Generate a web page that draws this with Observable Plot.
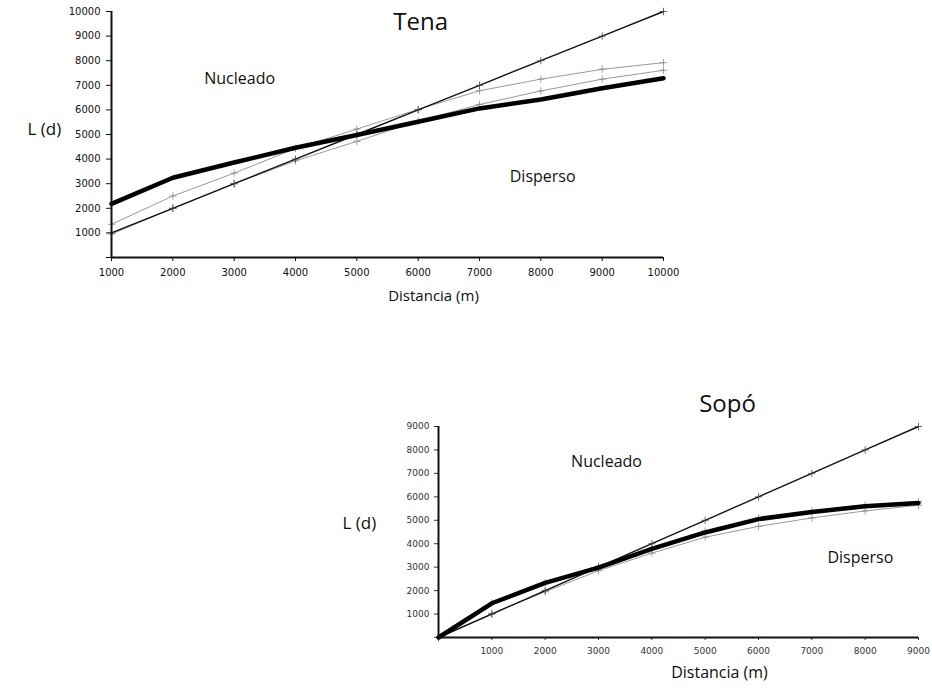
<!DOCTYPE html>
<html><head><meta charset="utf-8">
<script src="https://cdn.jsdelivr.net/npm/d3@7"></script>
<script src="https://cdn.jsdelivr.net/npm/@observablehq/plot@0.6"></script>
<style>
body{margin:0;background:#fff;}
#wrap{position:relative;width:932px;height:693px;overflow:hidden;background:#fff;}
#tena{position:absolute;left:0;top:0;}
#sopo{position:absolute;left:330px;top:380px;}
</style></head><body><div id="wrap"><div id="tena"></div><div id="sopo"></div></div>
<script>
// ---- Tena ----
const tenaDist = [1000,2000,3000,4000,5000,6000,7000,8000,9000,10000];
const tenaCSR = [1000,2000,3000,4000,5000,6000,7000,8000,9000,10000];
const tenaObserved = [2180,3240,3860,4460,4980,5520,6060,6420,6880,7290];
const tenaUpper = [1350,2500,3430,4430,5220,6020,6780,7250,7650,7920];
const tenaLower = [950,2000,3000,3930,4720,5550,6220,6770,7250,7610];
const tenaXTicks = [1000,2000,3000,4000,5000,6000,7000,8000,9000,10000];
const tenaYTicks = [0,1000,2000,3000,4000,5000,6000,7000,8000,9000,10000];

// ---- Sopó ----
const sopoDist = [0,1000,2000,3000,4000,5000,6000,7000,8000,9000];
const sopoCSR = [0,1000,2000,3000,4000,5000,6000,7000,8000,9000];
const sopoObserved = [0,1460,2330,2980,3780,4480,5050,5350,5600,5740];
const sopoUpper = [0,1470,2350,3050,3820,4540,5100,5400,5650,5800];
const sopoLower = [0,1020,1950,2850,3600,4280,4740,5100,5400,5640];
const sopoXTicks = [0,1000,2000,3000,4000,5000,6000,7000,8000,9000];
const sopoYTicks = [0,1000,2000,3000,4000,5000,6000,7000,8000,9000];

const rows = (dist, vals) => dist.map((d, i) => ({d, v: vals[i]}));
const fmt = d => d === 0 ? "" : String(d);
const annFont = "Open Sans";

function envelopeMarks(dist, upper, lower, csr, obs, thick) {
  const up = rows(dist, upper), lo = rows(dist, lower), cs = rows(dist, csr), ob = rows(dist, obs);
  return [
    Plot.line(up, {x: "d", y: "v", stroke: "#9a9a9a", strokeWidth: 1}),
    Plot.dot(up, {x: "d", y: "v", symbol: "plus", r: 2.5, stroke: "#888", strokeWidth: 0.8}),
    Plot.line(lo, {x: "d", y: "v", stroke: "#9a9a9a", strokeWidth: 1}),
    Plot.dot(lo, {x: "d", y: "v", symbol: "plus", r: 2.5, stroke: "#888", strokeWidth: 0.8}),
    Plot.line(cs, {x: "d", y: "v", stroke: "#111", strokeWidth: 1.4}),
    Plot.dot(cs, {x: "d", y: "v", symbol: "plus", r: 2.5, stroke: "#444", strokeWidth: 0.8}),
    Plot.line(ob, {x: "d", y: "v", stroke: "#000", strokeWidth: thick})
  ];
}

const tena = Plot.plot({
  width: 680, height: 320,
  marginLeft: 111, marginRight: 17, marginTop: 11, marginBottom: 63,
  x: {domain: [1000, 10000]},
  y: {domain: [0, 10000]},
  style: {fontFamily: "DejaVu Sans", fontSize: "10px", color: "#111", background: "white"},
  marks: [
    Plot.axisX(tenaXTicks, {tickSize: 4, tickPadding: 7, tickFormat: d => String(d), label: null}),
    Plot.axisY(tenaYTicks, {tickSize: 5, tickPadding: 6, tickFormat: fmt, label: null}),
    ...envelopeMarks(tenaDist, tenaUpper, tenaLower, tenaCSR, tenaObserved, 4.5),
    Plot.ruleX([1000], {stroke: "#111", strokeWidth: 2}),
    Plot.ruleY([0], {stroke: "#111", strokeWidth: 2}),
    Plot.text(["Tena"], {x: 6040, y: 9550, text: d => d, fontSize: 24, fontFamily: annFont, fill: "#111"}),
    Plot.text(["Nucleado"], {x: 3090, y: 7280, text: d => d, fontSize: 16, fontFamily: annFont, fill: "#111"}),
    Plot.text(["Disperso"], {x: 8030, y: 3290, text: d => d, fontSize: 16, fontFamily: annFont, fill: "#111"}),
    Plot.text(["L (d)"], {frameAnchor: "left", dx: -84, dy: -5, text: d => d, fontSize: 17, fontFamily: annFont, fill: "#111"}),
    Plot.text(["Distancia (m)"], {frameAnchor: "bottom", dx: 46, dy: 43, text: d => d, fontSize: 15, fontFamily: annFont, fill: "#111"})
  ]
});
document.getElementById("tena").append(tena);

const sopo = Plot.plot({
  width: 600, height: 313,
  marginLeft: 108, marginRight: 12, marginTop: 46, marginBottom: 56,
  x: {domain: [0, 9000]},
  y: {domain: [0, 9000]},
  style: {fontFamily: "DejaVu Sans", fontSize: "9px", color: "#333", background: "white"},
  marks: [
    Plot.axisX(sopoXTicks, {tickSize: 3, tickPadding: 7, tickFormat: fmt, label: null}),
    Plot.axisY(sopoYTicks, {tickSize: 4, tickPadding: 5, tickFormat: fmt, label: null}),
    ...envelopeMarks(sopoDist, sopoUpper, sopoLower, sopoCSR, sopoObserved, 4.5),
    Plot.ruleX([0], {stroke: "#111", strokeWidth: 2}),
    Plot.ruleY([0], {stroke: "#111", strokeWidth: 2}),
    Plot.text(["Sopó"], {x: 5420, y: 9940, text: d => d, fontSize: 24, fontFamily: annFont, fill: "#111"}),
    Plot.text(["Nucleado"], {x: 3150, y: 7470, text: d => d, fontSize: 16, fontFamily: annFont, fill: "#111"}),
    Plot.text(["Disperso"], {x: 7910, y: 3410, text: d => d, fontSize: 16, fontFamily: annFont, fill: "#111"}),
    Plot.text(["L (d)"], {frameAnchor: "left", dx: -96, dy: -8, text: d => d, fontSize: 17, fontFamily: annFont, fill: "#111"}),
    Plot.text(["Distancia (m)"], {frameAnchor: "bottom", dx: 41, dy: 40, text: d => d, fontSize: 16, fontFamily: annFont, fill: "#111"})
  ]
});
document.getElementById("sopo").append(sopo);
</script></body></html>
